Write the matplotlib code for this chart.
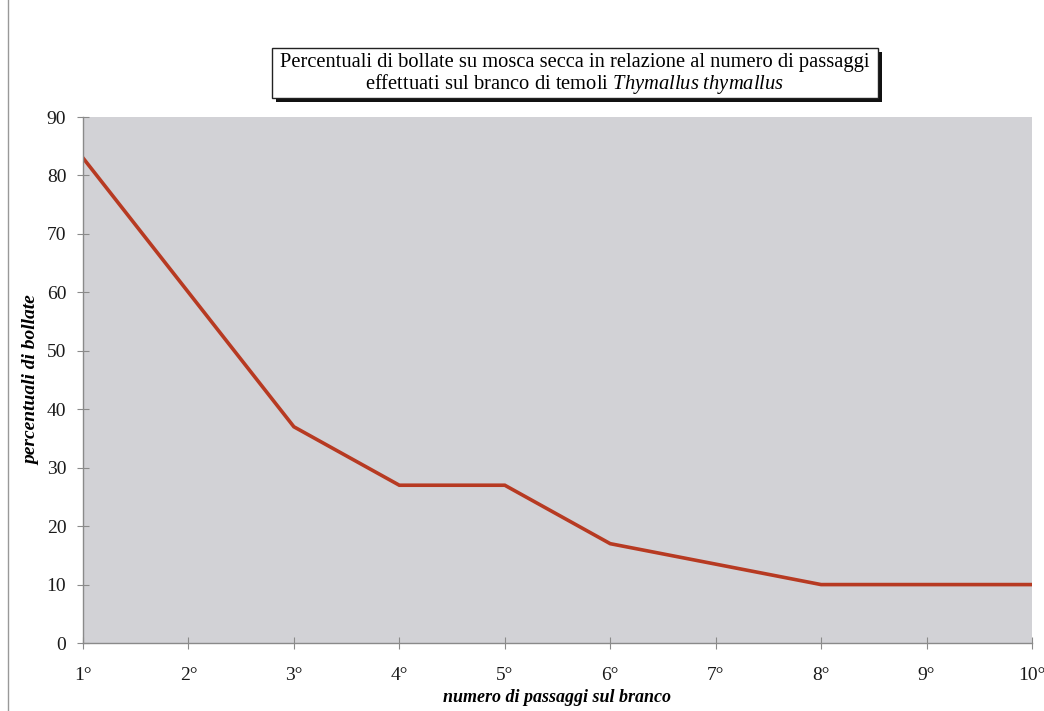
import matplotlib
matplotlib.use("Agg")
import matplotlib.pyplot as plt
from matplotlib.patches import Rectangle

# numero di passaggi sul branco -> percentuale di bollate
passaggi = [1, 2, 3, 4, 5, 6, 7, 8, 9, 10]
etichette = ["1°", "2°", "3°", "4°", "5°", "6°", "7°", "8°", "9°", "10°"]
bollate = [83, 60, 37, 27, 27, 17, 13.5, 10, 10, 10]
y_ticks = [0, 10, 20, 30, 40, 50, 60, 70, 80, 90]

plt.rcParams['font.family'] = ['Liberation Serif', 'DejaVu Serif']
plt.rcParams['mathtext.fontset'] = 'custom'
plt.rcParams['mathtext.rm'] = 'Liberation Serif'
plt.rcParams['mathtext.it'] = 'Liberation Serif:italic'

fig = plt.figure(figsize=(10.44, 7.11), dpi=100)
fig.patch.set_facecolor('white')
ax = fig.add_axes([0.0795, 0.0956, 0.909, 0.7398])
ax.set_facecolor('#d2d2d6')

ax.plot(passaggi, bollate, color='#b73a22', linewidth=2.6, solid_joinstyle='miter')

ax.set_xlim(1, 10)
ax.set_ylim(0, 90)
ax.set_xticks(passaggi)
ax.set_xticklabels(etichette)
ax.set_yticks(y_ticks)
for lab in ax.get_xticklabels() + ax.get_yticklabels():
    lab.set_fontsize(14)
    lab.set_color('#1a1a1a')

for side in ['top', 'right']:
    ax.spines[side].set_visible(False)
for side in ['left', 'bottom']:
    ax.spines[side].set_color('#8a8a8a')
    ax.spines[side].set_linewidth(1.0)
ax.tick_params(axis='y', direction='inout', length=8, color='#8a8a8a', pad=8)
ax.tick_params(axis='x', direction='inout', length=8, color='#8a8a8a', pad=13)

ax.set_xlabel('numero di passaggi sul branco', fontsize=13, fontweight='bold',
              fontstyle='italic')
ax.set_ylabel('percentuali di bollate', fontsize=14, fontweight='bold',
              fontstyle='italic')
ax.xaxis.set_label_coords(0.5, -0.103)
ax.yaxis.set_label_coords(-0.0537, 0.5)
ax.yaxis.label.set_va('center')
ax.xaxis.label.set_va('center')

# riquadro del titolo con ombra
bx, by, bw, bh = 272 / 1044, 1 - 98 / 711, 606 / 1044, 50 / 711
fig.patches.append(Rectangle((bx + 0.004, by - 0.006), bw, bh, transform=fig.transFigure,
                             facecolor='#111111', edgecolor='none', zorder=1))
fig.patches.append(Rectangle((bx, by), bw, bh, transform=fig.transFigure,
                             facecolor='white', edgecolor='#222222', linewidth=1.0, zorder=2))
fig.text(bx + bw / 2, by + bh * 0.72, 'Percentuali di bollate su mosca secca in relazione al numero di passaggi',
         ha='center', va='center', fontsize=14.8, zorder=3)
fig.text(bx + bw / 2, by + bh * 0.27,
         'effettuati sul branco di temoli $\\mathit{Thymallus\\ thymallus}$',
         ha='center', va='center', fontsize=14.8, zorder=3)

# bordo sinistro della scansione
fig.add_artist(plt.Line2D([8 / 1044, 8 / 1044], [0, 1], transform=fig.transFigure,
                          color='#999999', linewidth=1.0))

fig.savefig('out.png', dpi=100)
